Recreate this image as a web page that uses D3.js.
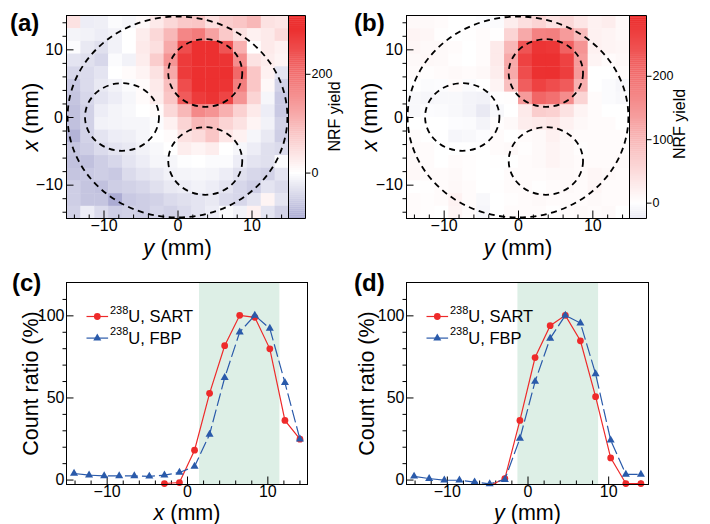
<!DOCTYPE html>
<html>
<head>
<meta charset="utf-8">
<script src="https://cdn.jsdelivr.net/npm/d3@7"></script>
<style>
  body { margin: 0; background: #fff; }
  text { font-family: "Liberation Sans", Arial, Helvetica, sans-serif; fill: #000; }
</style>
</head>
<body>
<svg id="fig" width="710" height="524"></svg>
<script>
// sample / pixel centres (mm), same for both directions
var gridPos = [-14.06, -12.19, -10.31, -8.44, -6.56, -4.69, -2.81, -0.94,
               0.94, 2.81, 4.69, 6.56, 8.44, 10.31, 12.19, 14.06];
var cellSize = 1.875;

// NRF yield maps, rows listed from top (x = +14) to bottom (x = -14), columns y = -14 .. +14
var yieldA = [
  [ 40, -20, -18,  -5, -10,   8,  30,  55,  75,  80,  45,  70,  80, 100,  40,  35],
  [-12, -15, -20, -15,   0,  25,  55, 100, 170, 185, 130,  75,  40,  20,  30,  50],
  [ -3, -25, -35, -15,   0,  30,  45, 120, 250, 300, 300, 240, 110,   0,  30,  20],
  [-30, -35, -45,  -5, -15,  25,  70, 150, 275, 310, 312, 285, 160,  40,  25,  15],
  [-45, -40, -30,   0,   5,  15,  40, 120, 275, 310, 318, 300, 210,  80,  20, -30],
  [-60, -40, -25, -15,  -5,   5,  30,  90, 250, 295, 300, 285, 180,  80,  10, -50],
  [-65, -45, -30, -20, -10,   5,  25,  80, 230, 275, 285, 260, 150,  60, -10, -60],
  [-70, -50, -20, -12,  -8,   0,   5,  55, 100, 165, 150, 110,  65,  30, -20, -60],
  [-70, -50, -15, -12, -10, -10,  -3,  20,  60, 100,  90,  60,  40,  15, -15, -50],
  [-85, -50, -30, -20, -18, -10,   0,   5,  40,  50,  80,  35,  20, -10, -25, -55],
  [-65, -55, -40, -30, -25, -15,  -8,   0,  25,  15,  25,   0, -10, -20, -35, -40],
  [-70, -70, -55, -45, -30, -20, -10, -10,  -2,   0,  -5,  -5, -20, -30, -35,  -5],
  [-65, -60, -55, -60, -40, -30, -25, -15, -12, -10, -12, -20, -35, -45, -50, -30],
  [-55, -65, -70, -55, -50, -45, -35, -25, -20, -15, -20, -30, -45, -55, -30, -40],
  [-55, -65, -65, -93, -60, -55, -50, -40, -35, -30, -25, -40, -45, -30,  15, -30],
  [-50, -20, -40, -55, -50, -55, -45, -50, -40, -30, -20,  -5, -15,  20, -30, -50]
];
var yieldB = [
  [  8,   8,   5,   0,   0,  -3,  -5,  25,  45,  60,  40,  55,  35,  20,  25,  10],
  [ 15,  12,   3,   0,   2,   5,   2,  60, 120, 175, 180, 140,  95,  20,  15,  10],
  [ 12,   8,   8,   5,   0,   5,  30, 100, 240, 285, 280, 220, 150,  20,  15,  12],
  [  8,  10,   8,   3,   0,   5,  30, 120, 265, 292, 295, 265, 140,  15,   5,  10],
  [  5,   3,   5,   8,   5,  10,  25, 120, 250, 288, 292, 270, 140,   0,   0,   5],
  [  0,  -5,  -3,   5,  -5,   0,  15,  90, 225, 265, 250, 230, 110,   0,  -5, -10],
  [ -8, -10,  -8,  -8, -12, -15,   2,   3, 140, 215, 200, 160,  60,   5,  -5,  -8],
  [ -8,  -3,  -5,  -8, -12, -25,  -8,   0,  30,  70,  65,  40,  15,   5,   0,   0],
  [  0,   0,   0,  -3,  -5, -12,   3,   8,  25,  30,  35,  20,  10,   5,   5,   0],
  [  5,   0,   0, -10,  -8,  -3,   5,   0,   5,   8,  20,  10,   5,   5,   5,   5],
  [  8,   5,   0,   0,   0,   0,   5,   8,   3,   8,  15,  10,   3,   5,   5,   5],
  [  8,   5,   0,   5,   3,   0,   2,   0,   5,   8,  15,  10,   5,   5,   5,   8],
  [ 10,   5,   5,   8,   3,   0,   0,   5,   5,   5,   8,   8,   5,  12,   8,   5],
  [  0,   2,   5,  10,   5,   0,   2,   5,   5,   2,   5,   8,   5,  12,   5,   5],
  [  5,   3,   5,  18,   5,  -8,   0,   3,   5,   8,   5,   5,   5,   8,   5,   5],
  [  5,   3,   0,  15,   5, -10,   0,   5,   5,   5,   2,   5,   8,   5,   8,   0]
];

// dashed rings drawn on the maps (centre y, centre x, radius; mm)
var ringY = [0, 3.75, -7.5, 3.75];
var ringX = [0, 6.5, 0, -6.5];
var ringR = [14.85, 5, 5, 5];

// line profiles (count ratio, %), null = off scale
var sartProfX = [null, null, null, null, null, null, -2.4, -1.8, 17.9, 52.5, 81.5, 100, 98.8, 79.6, 36, 24.6];
var fbpProfX  = [3.7, 2.7, 2.2, 2.2, 2.2, 2.0, 2.7, 4.3, 8.0, 27.5, 62, 89.8, 100, 92, 59, 24.6];
var sartProfY = [null, null, null, null, null, -3.6, 0.6, 36, 74.3, 93.7, 100, 84.5, 50.5, 13.2, -2.4, -2.4];
var fbpProfY  = [2.0, 0.6, -0.4, -0.4, -1.5, -2.6, 0, 25, 59.7, 86, 100, 95.3, 64.4, 24, 3.2, 3.2];

// highlighted band (mm)
var bandX = [1.5, 11.5];
var bandY = [-1.25, 8.75];

var majorMM = [-10, 0, 10];
var minorMM = [-14, -12, -8, -6, -4, -2, 2, 4, 6, 8, 12, 14];
var majorPct = [0, 50, 100];
var minorPct = [10, 20, 30, 40, 60, 70, 80, 90, 110];

var svg = d3.select("#fig");
var colour = d3.scaleLinear().domain([-93, 0, 290])
  .range(["#acacd3", "#ffffff", "#ec3030"]).clamp(true);
var fmt = d3.format("d");

function tidy(sel, size) {
  sel.attr("font-size", size).attr("font-family", null);
  sel.select(".domain").remove();
  sel.selectAll("line").attr("stroke", "#000");
}

function axisTitle(x, y, rot, italicPart, rest, size) {
  var t = svg.append("text")
    .attr("transform", "translate(" + x + "," + y + ")" + (rot ? " rotate(-90)" : ""))
    .attr("text-anchor", "middle").attr("font-size", size);
  if (italicPart) t.append("tspan").attr("font-style", "italic").text(italicPart);
  t.append("tspan").text(rest);
}

function panelLabel(x, y, s) {
  svg.append("text").attr("x", x).attr("y", y).attr("font-size", 24)
    .attr("font-weight", "bold").text(s);
}

function leftAxes(g, y, left, major, minor, pad) {
  g.append("g").attr("transform", "translate(" + left + ",0)")
    .call(d3.axisLeft(y).tickValues(major).tickSizeInner(-7).tickSizeOuter(0)
      .tickPadding(pad).tickFormat(fmt)).call(tidy, 16);
  g.append("g").attr("transform", "translate(" + left + ",0)")
    .call(d3.axisLeft(y).tickValues(minor).tickSize(4).tickFormat("")).call(tidy, 16);
}

function bottomAxes(g, x, bottom, pad) {
  g.append("g").attr("transform", "translate(0," + bottom + ")")
    .call(d3.axisBottom(x).tickValues(majorMM).tickSizeInner(-8).tickSizeOuter(0)
      .tickPadding(pad).tickFormat(fmt)).call(tidy, 16);
  g.append("g").attr("transform", "translate(0," + bottom + ")")
    .call(d3.axisBottom(x).tickValues(minorMM).tickSize(-4).tickFormat("")).call(tidy, 16);
}

function heatPanel(o) {
  var x = d3.scaleLinear().domain([-15, 15]).range([o.left, o.right]);
  var y = d3.scaleLinear().domain([-15, 15]).range([o.bottom, o.top]);
  var g = svg.append("g");
  var rowPos = gridPos.slice().reverse();
  var cells = [];
  o.values.forEach(function(row, r) {
    row.forEach(function(v, c) { cells.push({h: gridPos[c], v: rowPos[r], z: v}); });
  });
  g.selectAll("rect.cell").data(cells).join("rect").attr("class", "cell")
    .attr("x", function(d) { return x(d.h - cellSize / 2); })
    .attr("y", function(d) { return y(d.v + cellSize / 2); })
    .attr("width", x(cellSize) - x(0) + 0.4)
    .attr("height", y(0) - y(cellSize) + 0.4)
    .attr("fill", function(d) { return colour(d.z); });

  g.selectAll("ellipse").data(ringR).join("ellipse")
    .attr("cx", function(d, i) { return x(ringY[i]); })
    .attr("cy", function(d, i) { return y(ringX[i]); })
    .attr("rx", function(d) { return x(d) - x(0); })
    .attr("ry", function(d) { return y(0) - y(d); })
    .attr("fill", "none").attr("stroke", "#000").attr("stroke-width", 1.8)
    .attr("stroke-dasharray", "6,4.5");

  // colour bar, sharing its left edge with the map frame
  var ext = d3.extent(o.values.flat());
  var z = d3.scaleLinear().domain(ext).range([o.bottom, o.top]);
  var steps = d3.range(0, 100).map(function(i) { return ext[0] + (ext[1] - ext[0]) * i / 100; });
  var dz = (ext[1] - ext[0]) / 100;
  g.selectAll("rect.cb").data(steps).join("rect").attr("class", "cb")
    .attr("x", o.right + 0.5).attr("width", o.cbRight - o.right - 0.5)
    .attr("y", function(d) { return z(d + dz); })
    .attr("height", function(d) { return z(d) - z(d + dz) + 0.3; })
    .attr("fill", function(d) { return colour(d + dz / 2); });
  g.append("path")
    .attr("d", "M" + o.right + "," + o.top + "H" + o.cbRight + "V" + o.bottom + "H" + o.right)
    .attr("fill", "none").attr("stroke", "#000");
  g.append("g").attr("transform", "translate(" + o.cbRight + ",0)")
    .call(d3.axisRight(z).tickValues(o.cbTicks).tickSizeInner(5).tickSizeOuter(0)
      .tickPadding(1).tickFormat(fmt)).call(tidy, 12.5);
  svg.append("text").attr("transform", "translate(" + o.cbTitleX + "," + o.cbTitleY + ") rotate(-90)")
    .attr("text-anchor", "middle").attr("font-size", 16).text("NRF yield");

  leftAxes(g, y, o.left, majorMM, minorMM, 3.5);
  bottomAxes(g, x, o.bottom, 1.5);
  g.append("rect").attr("x", o.left).attr("y", o.top)
    .attr("width", o.right - o.left).attr("height", o.bottom - o.top)
    .attr("fill", "none").attr("stroke", "#000");

  axisTitle(o.yTitleX, (o.top + o.bottom) / 2, true, "x", " (mm)", 22);
  axisTitle((o.left + o.right) / 2, 254.5, false, "y", " (mm)", 22);
  panelLabel(o.labelX, 31, o.label);
}

function profilePanel(o) {
  var x = d3.scaleLinear().domain([-15, 15]).range([o.left, o.right]);
  var y = d3.scaleLinear().domain([-3, 120]).range([o.bottom, o.top]);
  var g = svg.append("g");
  var clipId = "clip" + o.label.replace(/\W/g, "");
  g.append("clipPath").attr("id", clipId).append("rect")
    .attr("x", o.left).attr("y", o.top)
    .attr("width", o.right - o.left).attr("height", o.bottom - o.top);

  g.append("rect").attr("x", x(o.band[0])).attr("y", o.top)
    .attr("width", x(o.band[1]) - x(o.band[0])).attr("height", o.bottom - o.top)
    .attr("fill", "#ddefe6");

  leftAxes(g, y, o.left, majorPct, minorPct, 2);
  bottomAxes(g, x, o.bottom, 1);

  var series = [
    {vals: o.sart, col: "#ee2a2a", dash: null, mark: "circle"},
    {vals: o.fbp, col: "#2a5aaa", dash: "13,4", mark: "tri"}
  ];
  var line = d3.line()
    .defined(function(d) { return d != null; })
    .x(function(d, i) { return x(gridPos[i]); })
    .y(function(d) { return y(d); });
  series.forEach(function(s) {
    g.append("path").attr("d", line(s.vals)).attr("clip-path", "url(#" + clipId + ")")
      .attr("fill", "none").attr("stroke", s.col).attr("stroke-width", 1.2)
      .attr("stroke-dasharray", s.dash);
    var pts = s.vals.map(function(v, i) { return {h: gridPos[i], v: v}; })
      .filter(function(d) { return d.v != null && d.v >= -3; });
    var sym = s.mark === "circle" ? d3.symbolCircle : d3.symbolTriangle;
    g.selectAll(null).data(pts).join("path")
      .attr("transform", function(d) { return "translate(" + x(d.h) + "," + y(d.v) + ")"; })
      .attr("d", d3.symbol().type(sym).size(s.mark === "circle" ? 36 : 28))
      .attr("fill", s.col);
  });

  // legend
  var names = ["SART", "FBP"];
  series.forEach(function(s, i) {
    var ly = o.top + 34 + i * 21.6;
    g.append("line").attr("x1", o.left + 20).attr("x2", o.left + 41.6)
      .attr("y1", ly).attr("y2", ly).attr("stroke", s.col).attr("stroke-width", 1.2);
    g.append("path").attr("transform", "translate(" + (o.left + 30.8) + "," + ly + ")")
      .attr("d", d3.symbol().type(s.mark === "circle" ? d3.symbolCircle : d3.symbolTriangle)
        .size(s.mark === "circle" ? 36 : 28)).attr("fill", s.col);
    var t = g.append("text").attr("x", o.left + 43.5).attr("y", ly + 5.5);
    t.append("tspan").attr("font-size", 11).attr("dy", -8.5).text("238");
    t.append("tspan").attr("font-size", 16.5).attr("dy", 8.5).text("U, " + names[i]);
  });

  g.append("rect").attr("x", o.left).attr("y", o.top)
    .attr("width", o.right - o.left).attr("height", o.bottom - o.top)
    .attr("fill", "none").attr("stroke", "#000");

  axisTitle(o.yTitleX, (o.top + o.bottom) / 2, true, null, "Count ratio (%)", 21.5);
  axisTitle((o.left + o.right) / 2, 520, false, o.axisVar, " (mm)", 21.5);
  panelLabel(o.labelX, 290.5, o.label);
}

heatPanel({values: yieldA, left: 66.5, right: 288.5, top: 15.5, bottom: 218.5,
  cbRight: 305.5, cbTicks: [0, 200], cbTitleX: 340, cbTitleY: 116.5,
  yTitleX: 37.5, labelX: 10, label: "(a)"});
heatPanel({values: yieldB, left: 406.5, right: 629.5, top: 15.5, bottom: 218.5,
  cbRight: 646.5, cbTicks: [0, 100, 200], cbTitleX: 684.5, cbTitleY: 124,
  yTitleX: 377, labelX: 354, label: "(b)"});
profilePanel({sart: sartProfX, fbp: fbpProfX, band: bandX, left: 66.5, right: 307.5,
  top: 282.5, bottom: 484.5, yTitleX: 37.5, axisVar: "x", labelX: 12, label: "(c)"});
profilePanel({sart: sartProfY, fbp: fbpProfY, band: bandY, left: 406.5, right: 648.5,
  top: 282.5, bottom: 484.5, yTitleX: 374, axisVar: "y", labelX: 354, label: "(d)"});
</script>
</body>
</html>
